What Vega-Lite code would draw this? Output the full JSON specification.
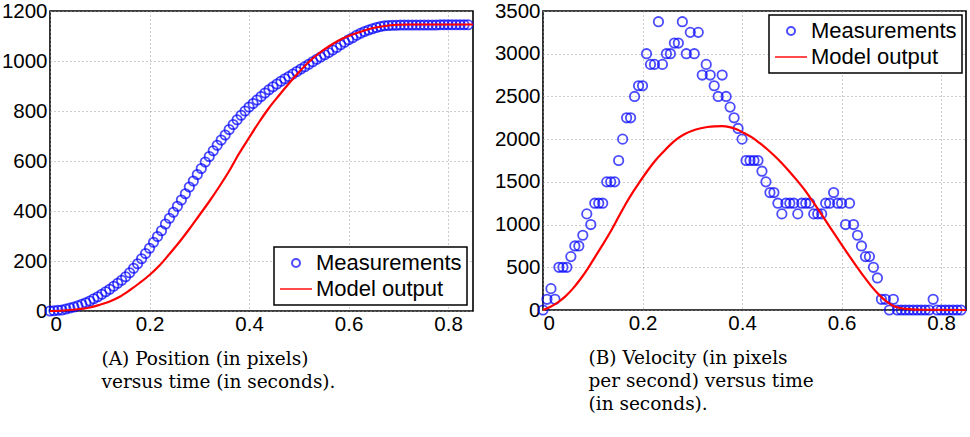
{
  "$schema": "https://vega.github.io/schema/vega-lite/v6.json",
  "background": "white",
  "padding": {"left": 0, "top": 0, "right": 0, "bottom": 0},
  "datasets": {
    "meas": [
      {"t":0,"p":0,"v":0},{"t":0.008,"p":1,"v":125},{"t":0.016,"p":3,"v":250},{"t":0.024,"p":4,"v":125},
      {"t":0.032,"p":8,"v":500},{"t":0.04,"p":12,"v":500},{"t":0.048,"p":16,"v":500},{"t":0.056,"p":21,"v":625},
      {"t":0.064,"p":27,"v":750},{"t":0.072,"p":33,"v":750},{"t":0.08,"p":40,"v":875},{"t":0.088,"p":49,"v":1125},
      {"t":0.096,"p":57,"v":1000},{"t":0.104,"p":67,"v":1250},{"t":0.112,"p":77,"v":1250},{"t":0.12,"p":87,"v":1250},
      {"t":0.128,"p":99,"v":1500},{"t":0.136,"p":111,"v":1500},{"t":0.144,"p":123,"v":1500},{"t":0.152,"p":137,"v":1750},
      {"t":0.16,"p":153,"v":2000},{"t":0.168,"p":171,"v":2250},{"t":0.176,"p":189,"v":2250},{"t":0.184,"p":209,"v":2500},
      {"t":0.192,"p":230,"v":2625},{"t":0.2,"p":251,"v":2625},{"t":0.208,"p":275,"v":3000},{"t":0.216,"p":298,"v":2875},
      {"t":0.224,"p":321,"v":2875},{"t":0.232,"p":348,"v":3375},{"t":0.24,"p":371,"v":2875},{"t":0.248,"p":395,"v":3000},
      {"t":0.256,"p":419,"v":3000},{"t":0.264,"p":444,"v":3125},{"t":0.272,"p":469,"v":3125},{"t":0.28,"p":496,"v":3375},
      {"t":0.288,"p":520,"v":3000},{"t":0.296,"p":546,"v":3250},{"t":0.304,"p":570,"v":3000},{"t":0.312,"p":596,"v":3250},
      {"t":0.32,"p":618,"v":2750},{"t":0.328,"p":641,"v":2875},{"t":0.336,"p":663,"v":2750},{"t":0.344,"p":684,"v":2625},
      {"t":0.352,"p":704,"v":2500},{"t":0.36,"p":726,"v":2750},{"t":0.368,"p":746,"v":2500},{"t":0.376,"p":765,"v":2375},
      {"t":0.384,"p":783,"v":2250},{"t":0.392,"p":800,"v":2125},{"t":0.4,"p":816,"v":2000},{"t":0.408,"p":830,"v":1750},
      {"t":0.416,"p":844,"v":1750},{"t":0.424,"p":858,"v":1750},{"t":0.432,"p":872,"v":1750},{"t":0.44,"p":885,"v":1625},
      {"t":0.448,"p":897,"v":1500},{"t":0.456,"p":908,"v":1375},{"t":0.464,"p":919,"v":1375},{"t":0.472,"p":929,"v":1250},
      {"t":0.48,"p":938,"v":1125},{"t":0.488,"p":948,"v":1250},{"t":0.496,"p":958,"v":1250},{"t":0.504,"p":968,"v":1250},
      {"t":0.512,"p":977,"v":1125},{"t":0.52,"p":987,"v":1250},{"t":0.528,"p":997,"v":1250},{"t":0.536,"p":1007,"v":1250},
      {"t":0.544,"p":1016,"v":1125},{"t":0.552,"p":1025,"v":1125},{"t":0.56,"p":1034,"v":1125},{"t":0.568,"p":1044,"v":1250},
      {"t":0.576,"p":1054,"v":1250},{"t":0.584,"p":1065,"v":1375},{"t":0.592,"p":1075,"v":1250},{"t":0.6,"p":1085,"v":1250},
      {"t":0.608,"p":1093,"v":1000},{"t":0.616,"p":1103,"v":1250},{"t":0.624,"p":1111,"v":1000},{"t":0.632,"p":1118,"v":875},
      {"t":0.64,"p":1124,"v":750},{"t":0.648,"p":1129,"v":625},{"t":0.656,"p":1134,"v":625},{"t":0.664,"p":1138,"v":500},
      {"t":0.672,"p":1141,"v":375},{"t":0.68,"p":1142,"v":125},{"t":0.688,"p":1143,"v":125},{"t":0.696,"p":1143,"v":0},
      {"t":0.704,"p":1144,"v":125},{"t":0.712,"p":1144,"v":0},{"t":0.72,"p":1144,"v":0},{"t":0.728,"p":1144,"v":0},
      {"t":0.736,"p":1144,"v":0},{"t":0.744,"p":1144,"v":0},{"t":0.752,"p":1144,"v":0},{"t":0.76,"p":1144,"v":0},
      {"t":0.768,"p":1144,"v":0},{"t":0.776,"p":1144,"v":0},{"t":0.784,"p":1145,"v":125},{"t":0.792,"p":1145,"v":0},
      {"t":0.8,"p":1145,"v":0},{"t":0.808,"p":1145,"v":0},{"t":0.816,"p":1145,"v":0},{"t":0.824,"p":1145,"v":0},
      {"t":0.832,"p":1145,"v":0},{"t":0.84,"p":1145,"v":0}
    ],
    "posModel": [
      {"t":0,"p":0},{"t":0.02,"p":1},{"t":0.04,"p":4},{"t":0.06,"p":8},{"t":0.08,"p":14},{"t":0.1,"p":25},
      {"t":0.12,"p":38},{"t":0.14,"p":57},{"t":0.16,"p":83},{"t":0.18,"p":112},{"t":0.2,"p":144},{"t":0.22,"p":182},
      {"t":0.24,"p":228},{"t":0.26,"p":276},{"t":0.28,"p":328},{"t":0.3,"p":383},{"t":0.32,"p":438},{"t":0.34,"p":497},
      {"t":0.36,"p":560},{"t":0.38,"p":630},{"t":0.4,"p":693},{"t":0.42,"p":755},{"t":0.44,"p":812},{"t":0.46,"p":862},
      {"t":0.48,"p":910},{"t":0.5,"p":955},{"t":0.52,"p":996},{"t":0.54,"p":1030},{"t":0.56,"p":1058},{"t":0.58,"p":1082},
      {"t":0.6,"p":1100},{"t":0.62,"p":1114},{"t":0.64,"p":1127},{"t":0.66,"p":1136},{"t":0.68,"p":1142},{"t":0.7,"p":1145},
      {"t":0.72,"p":1146},{"t":0.85,"p":1146}
    ],
    "velModel": [
      {"t":0,"v":0},{"t":0.015,"v":39},{"t":0.03,"v":90},{"t":0.045,"v":160},{"t":0.06,"v":250},{"t":0.075,"v":360},
      {"t":0.09,"v":485},{"t":0.105,"v":625},{"t":0.12,"v":765},{"t":0.135,"v":910},{"t":0.15,"v":1070},{"t":0.165,"v":1230},
      {"t":0.18,"v":1375},{"t":0.195,"v":1505},{"t":0.21,"v":1630},{"t":0.225,"v":1745},{"t":0.24,"v":1840},{"t":0.255,"v":1930},
      {"t":0.27,"v":2005},{"t":0.285,"v":2060},{"t":0.3,"v":2098},{"t":0.315,"v":2125},{"t":0.33,"v":2142},{"t":0.345,"v":2150},
      {"t":0.36,"v":2152},{"t":0.375,"v":2140},{"t":0.39,"v":2112},{"t":0.405,"v":2068},{"t":0.42,"v":2020},{"t":0.435,"v":1955},
      {"t":0.45,"v":1885},{"t":0.465,"v":1805},{"t":0.48,"v":1718},{"t":0.495,"v":1622},{"t":0.51,"v":1520},{"t":0.525,"v":1412},
      {"t":0.54,"v":1288},{"t":0.555,"v":1160},{"t":0.57,"v":1029},{"t":0.585,"v":896},{"t":0.6,"v":765},{"t":0.615,"v":637},
      {"t":0.63,"v":512},{"t":0.645,"v":390},{"t":0.66,"v":277},{"t":0.675,"v":180},{"t":0.69,"v":100},{"t":0.705,"v":45},
      {"t":0.72,"v":20},{"t":0.74,"v":8},{"t":0.76,"v":3},{"t":0.85,"v":0}
    ]
  },
  "hconcat": [
    {
      "width": 423,
      "height": 300,
      "layer": [
        {
          "data": {"name": "meas"},
          "mark": {"type": "point", "filled": false, "size": 88, "strokeWidth": 1.8},
          "encoding": {
            "x": {"field": "t", "type": "quantitative", "scale": {"domain": [0, 0.85], "nice": false},
                  "axis": {"values": [0, 0.2, 0.4, 0.6, 0.8], "format": "~g",
                           "title": ["(A) Position (in pixels)", "versus time (in seconds)."],
                           "titleX": 51}},
            "y": {"field": "p", "type": "quantitative", "scale": {"domain": [0, 1200], "nice": false},
                  "axis": {"values": [0, 200, 400, 600, 800, 1000, 1200], "format": "d", "title": null}},
            "color": {"datum": "Measurements", "type": "nominal",
                      "scale": {"domain": ["Measurements", "Model output"], "range": ["#0000ff", "#ff0000"]},
                      "legend": {"orient": "bottom-right", "offset": 6, "title": null}},
            "shape": {"datum": "Measurements", "type": "nominal",
                      "scale": {"domain": ["Measurements", "Model output"], "range": ["circle", "M-4,0L4,0"]},
                      "legend": {"orient": "bottom-right", "offset": 6, "title": null}}
          }
        },
        {
          "data": {"name": "posModel"},
          "mark": {"type": "line", "strokeWidth": 2.2, "interpolate": "monotone"},
          "encoding": {
            "x": {"field": "t", "type": "quantitative"},
            "y": {"field": "p", "type": "quantitative"},
            "color": {"datum": "Model output", "type": "nominal"}
          }
        }
      ]
    },
    {
      "width": 423,
      "height": 299,
      "layer": [
        {
          "data": {"name": "meas"},
          "mark": {"type": "point", "filled": false, "size": 88, "strokeWidth": 1.8},
          "encoding": {
            "x": {"field": "t", "type": "quantitative", "scale": {"domain": [0, 0.85], "nice": false},
                  "axis": {"values": [0, 0.2, 0.4, 0.6, 0.8], "format": "~g",
                           "title": ["(B) Velocity (in pixels", "per second) versus time", "(in seconds)."],
                           "titleX": 45}},
            "y": {"field": "v", "type": "quantitative", "scale": {"domain": [0, 3500], "nice": false},
                  "axis": {"values": [0, 500, 1000, 1500, 2000, 2500, 3000, 3500], "format": "d", "title": null}},
            "color": {"datum": "Measurements", "type": "nominal",
                      "scale": {"domain": ["Measurements", "Model output"], "range": ["#0000ff", "#ff0000"]},
                      "legend": {"orient": "top-right", "offset": 4, "title": null}},
            "shape": {"datum": "Measurements", "type": "nominal",
                      "scale": {"domain": ["Measurements", "Model output"], "range": ["circle", "M-4,0L4,0"]},
                      "legend": {"orient": "top-right", "offset": 4, "title": null}}
          }
        },
        {
          "data": {"name": "velModel"},
          "mark": {"type": "line", "strokeWidth": 2.2, "interpolate": "monotone"},
          "encoding": {
            "x": {"field": "t", "type": "quantitative"},
            "y": {"field": "v", "type": "quantitative"},
            "color": {"datum": "Model output", "type": "nominal"}
          }
        }
      ]
    }
  ],
  "spacing": 70,
  "bounds": "flush",
  "resolve": {
    "scale": {"color": "independent", "shape": "independent", "x": "independent", "y": "independent"},
    "legend": {"color": "independent", "shape": "independent"}
  },
  "config": {
    "view": {"stroke": "#000000", "strokeWidth": 1.6},
    "axis": {
      "labelFont": "Liberation Sans",
      "labelFontSize": 20.5,
      "labelColor": "#000000",
      "labelPadding": 3,
      "ticks": false,
      "domain": false,
      "grid": true,
      "gridColor": "#9a9a9a",
      "gridDash": [1, 3],
      "gridWidth": 1,
      "titleFont": "DejaVu Serif",
      "titleFontSize": 18.5,
      "titleFontWeight": "normal",
      "titleColor": "#000000",
      "titleLineHeight": 23,
      "titleAlign": "left",
      "titleAnchor": "start",
      "titleBaseline": "top",
      "titleY": 38
    },
    "legend": {
      "labelFont": "Liberation Sans",
      "labelFontSize": 22,
      "labelColor": "#000000",
      "strokeColor": "#000000",
      "strokeWidth": 1.5,
      "fillColor": "#ffffff",
      "padding": 5,
      "symbolSize": 64,
      "symbolStrokeWidth": 2,
      "symbolOffset": 6,
      "labelOffset": 9,
      "rowPadding": 4,
      "cornerRadius": 0
    }
  }
}
